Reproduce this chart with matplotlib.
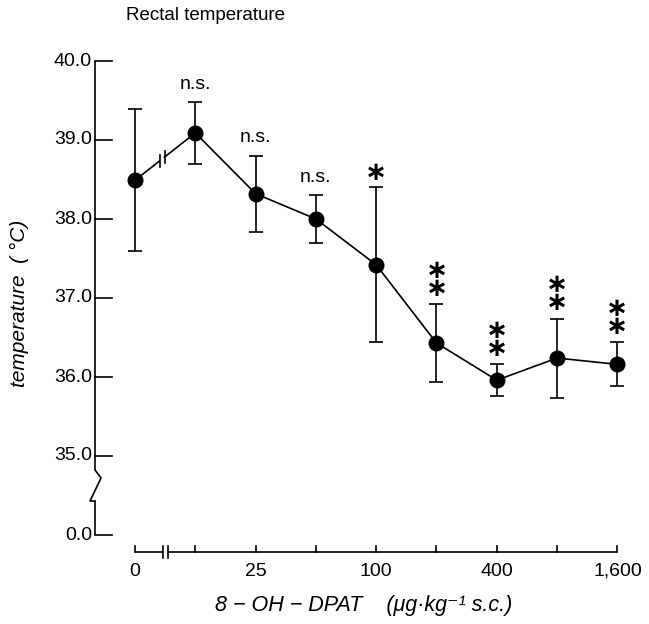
import matplotlib
matplotlib.use("Agg")
import matplotlib.pyplot as plt
import numpy as np

plt.rcParams['font.family'] = ['Liberation Sans', 'DejaVu Sans']

# ---- data ----
doses = ["0", "12.5", "25", "50", "100", "200", "400", "800", "1,600"]
dose_labels = ["0", "", "25", "", "100", "", "400", "", "1,600"]
temp_mean = [38.49, 39.09, 38.32, 38.00, 37.42, 36.43, 35.96, 36.24, 36.16]
temp_sd = [0.90, 0.39, 0.48, 0.30, 0.98, 0.49, 0.20, 0.50, 0.28]
signif = ["", "n.s.", "n.s.", "n.s.", "*", "**", "**", "**", "**"]
yticks_vals = [40.0, 39.0, 38.0, 37.0, 36.0, 35.0]
ytick_labels = ["40.0", "39.0", "38.0", "37.0", "36.0", "35.0"]
y_zero_label = "0.0"

W, H = 649, 624
fig = plt.figure(figsize=(W / 100, H / 100), dpi=100)
ax = fig.add_axes([0, 0, 1, 1])
ax.axis("off")

# pixel mapping helpers (layout only)
X0, DX = 135.0, 60.3
Y40, DY = 61.0, 79.0
def px2x(px):
    return (px - X0) / DX
def py2y(py):
    return 40.0 - (py - Y40) / DY

ax.set_xlim(px2x(0), px2x(W))
ax.set_ylim(py2y(H), py2y(0))

lw = 1.2
k = "black"
xs = np.arange(len(doses))
fs_tick = 14

# ---- y axis with break ----
sx = px2x(95)
zero_pos = 34.0
ax.plot([sx, sx], [40.0, py2y(470)], color=k, lw=lw, solid_capstyle="butt")
zz_x = [sx, px2x(101), px2x(90), sx]
zz_y = [py2y(470), py2y(478), py2y(501), py2y(501)]
ax.plot(zz_x, zz_y, color=k, lw=lw)
ax.plot([sx, sx], [py2y(501), zero_pos], color=k, lw=lw, solid_capstyle="butt")
tick_end = px2x(112)
for v, lab in zip(yticks_vals, ytick_labels):
    ax.plot([sx, tick_end], [v, v], color=k, lw=lw)
    ax.text(px2x(92), v, lab, ha="right", va="center", fontsize=fs_tick)
ax.plot([sx, tick_end], [zero_pos, zero_pos], color=k, lw=lw)
ax.text(px2x(92), zero_pos, y_zero_label, ha="right", va="center", fontsize=fs_tick)

# ---- x axis with break ----
ay = py2y(552)
tick_top = py2y(546)
ax.plot([xs[0], px2x(163)], [ay, ay], color=k, lw=lw, solid_capstyle="butt")
ax.plot([px2x(168), xs[-1]], [ay, ay], color=k, lw=lw, solid_capstyle="butt")
for bx in (163, 168):
    ax.plot([px2x(bx), px2x(bx)], [py2y(546), py2y(558)], color=k, lw=lw)
for xi, lab in zip(xs, dose_labels):
    ax.plot([xi, xi], [ay, tick_top], color=k, lw=lw)
    if lab:
        ax.text(xi, py2y(571), lab, ha="center", va="center", fontsize=fs_tick)

# ---- data ----
ax.errorbar(xs, temp_mean, yerr=temp_sd, fmt="none", ecolor=k, elinewidth=lw,
            capsize=4.7, capthick=lw, zorder=3)
ax.plot(xs[1:], temp_mean[1:], color=k, lw=lw, zorder=3)
# broken segment between 0 and first dose
fx = px2x(162)
gap = px2x(162 + 2.5) - fx
def yat(x):
    return temp_mean[0] + (x - xs[0]) / (xs[1] - xs[0]) * (temp_mean[1] - temp_mean[0])
ax.plot([xs[0], fx - gap], [temp_mean[0], yat(fx - gap)], color=k, lw=lw, zorder=3)
ax.plot([fx + gap, xs[1]], [yat(fx + gap), temp_mean[1]], color=k, lw=lw, zorder=3)
hb = 6 / DY
for bx in (fx - gap, fx + gap):
    ax.plot([bx, bx], [yat(bx) - hb, yat(bx) + hb], color=k, lw=lw, zorder=3)
ax.plot(xs, temp_mean, "o", color=k, markersize=10.5, zorder=4)

# ---- significance marks ----
for xi, m, s, lab in zip(xs, temp_mean, temp_sd, signif):
    top = m + s
    if lab == "n.s.":
        ax.annotate(lab, (xi, top), xytext=(0, 13), textcoords="offset points",
                    ha="center", va="center", fontsize=fs_tick)
    elif lab == "*":
        ax.annotate("\u2217", (xi, top), xytext=(0, 10.5), textcoords="offset points",
                    ha="center", va="center", fontsize=19, fontweight="bold",
                    family="DejaVu Sans")
    elif lab:
        ax.annotate("\n".join(["\u2217"] * len(lab)), (xi, top), xytext=(0, 17.5),
                    textcoords="offset points", ha="center", va="center",
                    fontsize=19, fontweight="bold", family="DejaVu Sans",
                    linespacing=0.62)

# ---- titles ----
ax.text(px2x(126), py2y(16), "Rectal temperature", ha="left", va="center", fontsize=13.5)
ax.text(px2x(19), py2y(303), "temperature  ( \u00b0C)", ha="center", va="center",
        rotation=90, fontsize=15, style="italic")
ax.text(px2x(364), py2y(605),
        "8 \u2212 OH \u2212 DPAT    (\u03bcg\u00b7kg\u207b\u00b9 s.c.)",
        ha="center", va="center", fontsize=15.5, style="italic",
        family=["Liberation Sans", "DejaVu Sans"])

fig.savefig("out.png", dpi=100)
